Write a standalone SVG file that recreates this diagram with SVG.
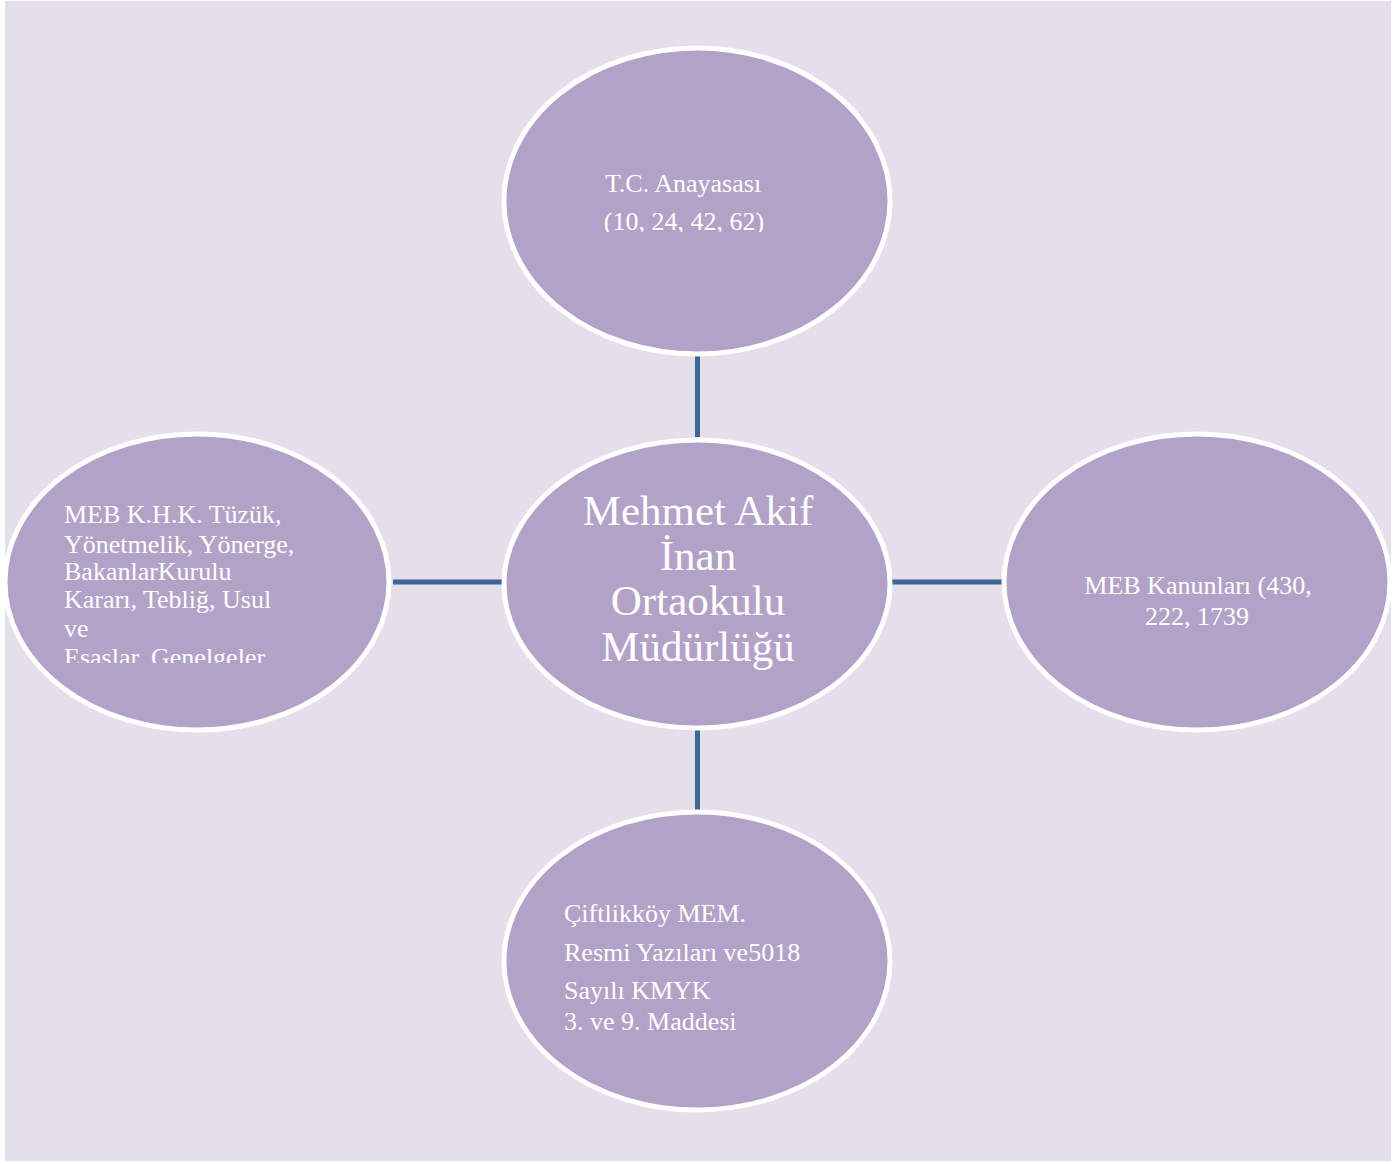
<svg xmlns="http://www.w3.org/2000/svg" width="1394" height="1164" viewBox="0 0 1394 1164">
<style>
.node{fill:#B3A2C7;stroke:#FFFFFF;stroke-width:5}
.edge{stroke:#3D6694;stroke-width:5;fill:none}
.t{font-family:"Liberation Serif","Times New Roman",serif;fill:#FFFFFF;font-size:26px}
.c{text-anchor:middle}
.big{font-size:43px}
</style>
<defs>
<clipPath id="clipTop"><rect x="500" y="150" width="400" height="82"/></clipPath>
<clipPath id="clipLeft"><rect x="40" y="490" width="320" height="173"/></clipPath>
</defs>
<rect x="0" y="0" width="1394" height="1164" fill="#FFFFFF"/>
<rect x="5" y="1" width="1386" height="1160" fill="#E5DEEB"/>
<g id="connectors">
<line class="edge" x1="697.5" y1="352" x2="697.5" y2="437"/>
<line class="edge" x1="393" y1="582" x2="506" y2="582"/>
<line class="edge" x1="888" y1="582" x2="1004" y2="582"/>
<line class="edge" x1="697.5" y1="728" x2="697.5" y2="814"/>
</g>
<g id="node-top">
<ellipse class="node" cx="697" cy="201" rx="193" ry="153"/>
<g clip-path="url(#clipTop)">
<text class="t c" x="683" y="192">T.C. Anayasası</text>
<text class="t c" x="684" y="230">(10, 24, 42, 62)</text>
</g>
</g>
<g id="node-center">
<ellipse class="node" cx="697" cy="584" rx="193" ry="144"/>
<text class="t c big" x="698" y="525">Mehmet Akif</text>
<text class="t c big" x="698" y="570">İnan</text>
<text class="t c big" x="698" y="615">Ortaokulu</text>
<text class="t c big" x="698" y="661">Müdürlüğü</text>
</g>
<g id="node-left">
<ellipse class="node" cx="197" cy="582" rx="192" ry="148"/>
<g clip-path="url(#clipLeft)">
<text class="t" x="64" y="523">MEB K.H.K. Tüzük,</text>
<text class="t" x="64" y="553">Yönetmelik, Yönerge,</text>
<text class="t" x="64" y="580">BakanlarKurulu</text>
<text class="t" x="64" y="608">Kararı, Tebliğ, Usul</text>
<text class="t" x="64" y="637">ve</text>
<text class="t" x="64" y="666">Esaslar, Genelgeler</text>
</g>
</g>
<g id="node-right">
<ellipse class="node" cx="1197" cy="582" rx="193" ry="148"/>
<text class="t c" x="1198" y="594">MEB Kanunları (430,</text>
<text class="t c" x="1197" y="625">222, 1739</text>
</g>
<g id="node-bottom">
<ellipse class="node" cx="697" cy="961" rx="193" ry="149"/>
<text class="t" x="564" y="922">Çiftlikköy MEM.</text>
<text class="t" x="564" y="961">Resmi Yazıları ve5018</text>
<text class="t" x="564" y="999">Sayılı KMYK</text>
<text class="t" x="564" y="1030">3. ve 9. Maddesi</text>
</g>
</svg>
